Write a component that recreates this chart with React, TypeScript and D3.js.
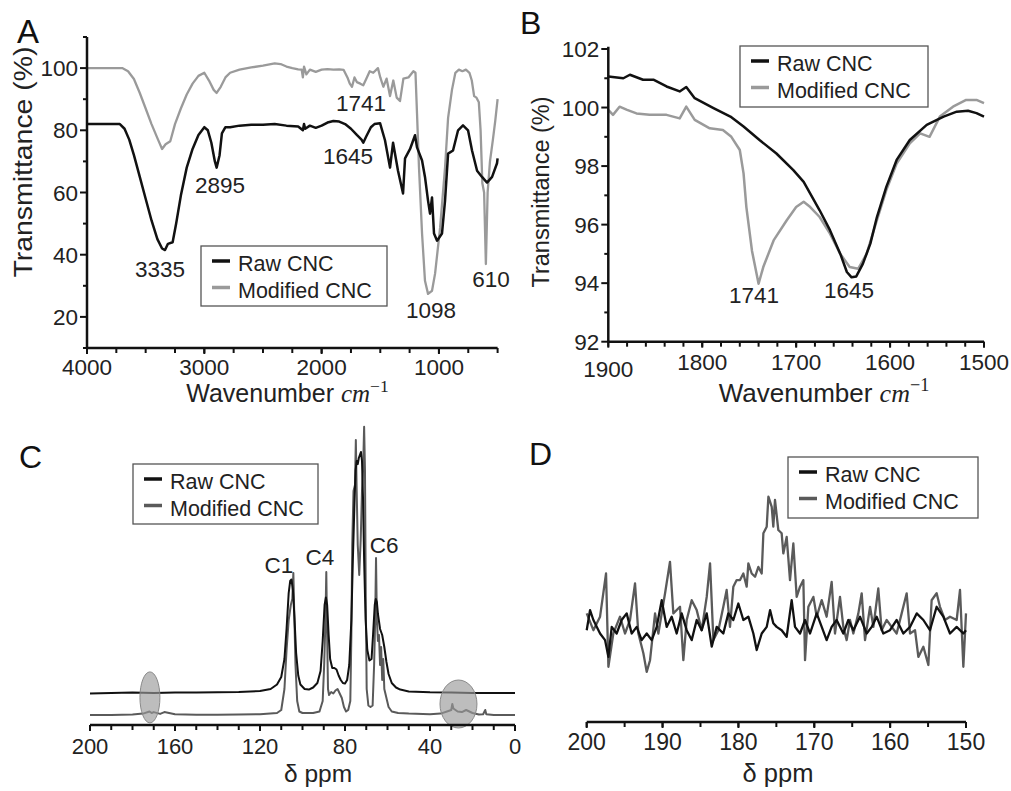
import React from "react";
import * as d3 from "d3";

const SANS = "'Liberation Sans', Arial, Helvetica, sans-serif";
const SERIF = "'Liberation Serif', 'Times New Roman', serif";
const BLACK = "#111111";
const GRAY_LIGHT = "#9a9a9a";
const GRAY_DARK = "#5a5a5a";

type P = [number, number];

// ---------- Panel A : FTIR 4000-500 cm-1 ----------
const aRaw: P[] = [
  [4000, 82], [3850, 82], [3720, 82], [3680, 80.5], [3640, 77], [3600, 72], [3550, 65], [3500, 58], [3450, 51], [3400, 45],
  [3360, 42], [3335, 41.5], [3310, 43.5], [3270, 44], [3240, 50], [3200, 59], [3150, 68], [3100, 74], [3050, 78.5], [3000, 81],
  [2970, 80], [2940, 76], [2910, 70], [2895, 68], [2870, 72], [2850, 79], [2820, 81], [2780, 81], [2700, 81.5], [2600, 81.8],
  [2500, 81.8], [2400, 82], [2300, 81.5], [2200, 81.2], [2160, 80], [2150, 82], [2140, 80.5], [2100, 81.5], [2050, 80.8], [2000, 81.5],
  [1950, 82.5], [1900, 83], [1850, 82.8], [1800, 82], [1750, 80.5], [1700, 78.5], [1660, 77], [1645, 76], [1620, 78], [1580, 81],
  [1550, 82], [1502, 82.3], [1460, 76.8], [1417, 68], [1391, 76], [1349, 67], [1306, 59.7], [1289, 71], [1246, 74], [1204, 78.4],
  [1187, 74.5], [1144, 70.3], [1119, 65], [1093, 57.4], [1076, 53.2], [1059, 58.4], [1042, 46.8], [1016, 44.5], [974, 46.8], [948, 57.4],
  [922, 72.5], [880, 73.5], [837, 80], [795, 81.6], [752, 80], [718, 73.5], [675, 67], [633, 65], [590, 63.2], [547, 65],
  [505, 69.4], [500, 71],
];
const aMod: P[] = [
  [4000, 100], [3850, 100], [3700, 100], [3650, 99], [3600, 96.5], [3550, 92], [3500, 87], [3450, 82], [3400, 77.5], [3360, 74],
  [3330, 75.5], [3290, 76.5], [3250, 82], [3200, 87], [3150, 91.5], [3100, 95], [3050, 97.5], [3000, 98.5], [2960, 96], [2920, 93],
  [2895, 92], [2860, 94], [2820, 97], [2780, 98.5], [2700, 99.5], [2600, 100.2], [2500, 100.8], [2400, 101.5], [2350, 101.3], [2300, 100.5],
  [2250, 100], [2200, 99.6], [2170, 99.5], [2160, 97], [2150, 100.5], [2130, 98], [2100, 99.5], [2050, 98.8], [2000, 99.5], [1950, 99.7],
  [1900, 99.5], [1850, 99.6], [1812, 99.4], [1780, 97], [1760, 95], [1741, 94], [1720, 97], [1700, 95.5], [1670, 95], [1645, 94.5],
  [1620, 96.5], [1590, 99], [1560, 98.5], [1520, 100], [1500, 97], [1474, 94], [1446, 96.6], [1417, 91], [1389, 96], [1360, 90.5],
  [1332, 89.4], [1303, 96.6], [1260, 97], [1218, 99], [1200, 98.5], [1187, 85.5], [1170, 68], [1144, 46.8], [1119, 31.6], [1093, 27.4],
  [1059, 28.4], [1033, 33.9], [990, 48.7], [948, 68], [922, 84], [889, 93], [860, 98.5], [830, 99.5], [800, 99], [770, 99.5],
  [740, 98.5], [720, 96], [700, 91], [680, 90.5], [660, 89], [645, 80], [630, 63], [615, 60], [600, 37], [585, 60],
  [565, 70], [540, 77], [520, 83], [500, 90],
];
const aXMajor = [4000, 3000, 2000, 1000];
const aXMinor = d3.range(4000, 499, -250);
const aYMajor = [20, 40, 60, 80, 100];
const aYMinor = [10, 30, 50, 70, 90, 110];
const aPeaks: { text: string; x: number; y: number }[] = [
  { text: "3335", x: 3378, y: 32.8 },
  { text: "2895", x: 2866, y: 59.8 },
  { text: "1741", x: 1664, y: 86.2 },
  { text: "1645", x: 1775, y: 69.2 },
  { text: "1098", x: 1068, y: 19.6 },
  { text: "610", x: 556, y: 29.6 },
];

// ---------- Panel B : FTIR 1900-1500 cm-1 ----------
const bRaw: P[] = [
  [1900, 101.06], [1884, 101.0], [1877, 101.12], [1863, 100.95], [1852, 100.95], [1838, 100.72], [1824, 100.55], [1817, 100.7],
  [1808, 100.32], [1788, 99.98], [1770, 99.69], [1756, 99.35], [1739, 98.89], [1721, 98.43], [1703, 97.86], [1692, 97.46],
  [1682, 96.89], [1675, 96.49], [1664, 95.81], [1653, 95.0], [1646, 94.38], [1641, 94.2], [1636, 94.23], [1629, 94.66],
  [1621, 95.35], [1614, 96.26], [1604, 97.29], [1593, 98.21], [1579, 98.89], [1561, 99.41], [1543, 99.69], [1529, 99.86],
  [1517, 99.89], [1508, 99.81], [1500, 99.69],
];
const bMod: P[] = [
  [1900, 99.92], [1895, 99.75], [1888, 100.03], [1880, 99.92], [1870, 99.8], [1856, 99.75], [1838, 99.75], [1824, 99.63],
  [1817, 100.03], [1808, 99.58], [1792, 99.29], [1778, 99.23], [1769, 99.0], [1760, 98.55], [1756, 97.75], [1753, 96.6],
  [1747, 95.1], [1740, 93.98], [1735, 94.55], [1724, 95.46], [1710, 96.15], [1700, 96.6], [1692, 96.78], [1685, 96.6],
  [1675, 96.26], [1664, 95.69], [1653, 95.0], [1643, 94.55], [1634, 94.49], [1625, 95.0], [1614, 96.15], [1604, 97.18],
  [1593, 98.09], [1579, 98.78], [1568, 99.12], [1558, 99.0], [1547, 99.69], [1533, 100.03], [1519, 100.26], [1508, 100.26],
  [1500, 100.15],
];
const bXMajor = [1900, 1800, 1700, 1600, 1500];
const bXMinor = d3.range(1900, 1499, -20);
const bYMajor = [92, 94, 96, 98, 100, 102];
const bYMinor = [93, 95, 97, 99, 101];
const bPeaks: { text: string; x: number; y: number }[] = [
  { text: "1741", x: 1744.9, y: 93.32 },
  { text: "1645", x: 1643.8, y: 93.49 },
];

// ---------- Panel C : 13C NMR 200-0 ppm ----------
const cRaw: P[] = [
  [200, 10.5], [190, 10.7], [180, 10.8], [170, 10.7], [160, 10.8], [150, 10.8], [140, 10.9], [130, 11], [120, 11.3], [115, 12],
  [112, 13.5], [110, 16], [108.5, 22], [107.5, 32], [106.5, 44], [105.8, 48], [105.2, 48.5], [104.5, 45], [103.8, 36], [103, 24],
  [102, 16.5], [101, 13.5], [99, 12], [97, 11.8], [95, 12.5], [93, 14], [91.5, 18], [90.5, 28], [89.6, 40], [89, 42.5],
  [88.4, 40], [87.7, 30], [87, 22], [86, 19], [85, 19], [84, 18.5], [83, 16.5], [82, 15], [81, 14], [80, 13.8],
  [79, 15], [78, 20], [77, 35], [76.3, 55], [75.5, 75], [75, 85], [74.5, 88], [74, 87], [73.5, 89], [73, 90],
  [72.5, 91], [72, 88], [71.5, 75], [71, 55], [70.3, 35], [69.5, 25], [68.5, 21.5], [67.5, 22], [66.8, 30], [66, 40],
  [65.5, 42], [65, 41], [64.5, 37], [63.5, 32], [62.5, 30], [61.5, 26], [60.5, 21], [59.5, 17], [58, 14], [56, 12.5],
  [54, 11.8], [50, 11.2], [40, 10.9], [30, 10.8], [20, 10.7], [10, 10.7], [0, 10.7],
];
const cMod: P[] = [
  [200, 3.3], [190, 3.3], [180, 3.5], [175, 3.8], [172, 4.5], [171, 4], [170, 4.3], [167, 3.7], [165, 4.3], [160, 3.6],
  [150, 3.4], [140, 3.4], [130, 3.5], [120, 3.6], [112, 4], [110, 5], [108.5, 12], [107.5, 25], [106.5, 35], [105.5, 40],
  [104.8, 42], [104.3, 50.7], [103.9, 38], [103.3, 20], [102.5, 8], [101.5, 4.5], [100, 4], [95, 4], [92, 4.5], [90.5, 8],
  [89.8, 20], [89.2, 35], [88.8, 51], [88.4, 30], [88, 12], [87.5, 10], [86.5, 11], [85.5, 10.5], [84.5, 11.5], [83.5, 12],
  [82.5, 10.5], [81.5, 9], [80.5, 6], [79.5, 4.5], [78.5, 5], [77.5, 8], [77, 30], [76.6, 60], [76, 78], [75.3, 80],
  [74.9, 95], [74.5, 78], [74, 60], [73.3, 50], [72.6, 62], [72, 78], [71.5, 85], [71, 99.4], [70.6, 85], [70.2, 40],
  [69.8, 12], [69, 6.5], [68, 6], [67, 6.5], [66.3, 20], [65.8, 35], [65.4, 55.7], [65, 35], [64.5, 28], [64, 30],
  [63.5, 20], [63, 26], [62.5, 15], [62, 22], [61.5, 12], [60.5, 9], [59.5, 6], [58, 4.5], [55, 4], [50, 3.8],
  [40, 3.6], [35, 3.8], [32, 4.5], [30, 5], [29.5, 7], [29, 5.5], [27, 4.5], [25, 4.3], [23, 5], [20, 4],
  [17, 3.5], [15, 3.6], [14, 5], [13.5, 3.6], [10, 3.3], [0, 3.3],
];
const cXMajor = [200, 160, 120, 80, 40, 0];
const cXMinor = d3.range(200, -1, -10);
const cPeaks: { text: string; x: number; y: number }[] = [
  { text: "C1", x: 111.1, y: 50.7 },
  { text: "C4", x: 91.8, y: 53.3 },
  { text: "C6", x: 61.6, y: 57.3 },
];
const cMarks: { x: number; y: number; rx: number; ry: number }[] = [
  { x: 171.8, y: 9.2, rx: 4.7, ry: 8.5 },
  { x: 26.6, y: 7, rx: 8.7, ry: 8 },
];

// ---------- Panel D : 13C NMR 200-150 ppm ----------
const dRaw: P[] = [
  [200.0, 30.6], [199.56, 37.3], [199.12, 34.0], [198.24, 29.5], [197.58, 27.3], [197.14, 21.7], [196.7, 31.7], [196.05, 29.5],
  [195.39, 34.0], [194.73, 36.2], [194.07, 29.5], [193.41, 31.7], [192.75, 27.3], [192.09, 29.5], [191.43, 27.3], [190.77, 31.7],
  [190.11, 40.6], [189.46, 31.7], [188.8, 35.1], [188.14, 29.5], [187.48, 36.2], [186.82, 30.6], [186.16, 27.3], [185.5, 34.0],
  [184.84, 30.6], [184.18, 36.2], [183.52, 25.1], [182.86, 31.7], [181.99, 29.5], [181.33, 36.2], [180.67, 34.0], [180.01, 39.5],
  [179.35, 34.0], [178.69, 35.1], [178.03, 29.5], [177.59, 24.0], [176.93, 29.5], [176.27, 31.7], [175.83, 37.3], [175.4, 32.9],
  [174.96, 31.7], [174.3, 30.6], [173.64, 28.4], [172.98, 40.6], [172.54, 31.7], [171.88, 29.5], [171.22, 34.0], [170.56, 29.5],
  [169.68, 36.2], [169.02, 31.7], [168.37, 27.3], [167.71, 31.7], [167.05, 34.0], [166.17, 29.5], [165.51, 34.0], [164.85, 30.6],
  [163.97, 35.1], [163.09, 29.5], [162.43, 31.7], [161.78, 35.1], [160.9, 29.5], [160.02, 30.6], [159.14, 34.0], [158.26, 29.5],
  [157.38, 31.7], [156.5, 36.2], [155.62, 34.0], [154.75, 30.6], [153.87, 38.4], [152.99, 35.1], [152.11, 29.5], [151.23, 31.7],
  [150.35, 29.5], [150.0, 30.6],
];
const dMod: P[] = [
  [200.0, 36.2], [199.12, 30.6], [198.24, 35.1], [197.45, 49.5], [197.14, 18.4], [196.49, 29.5], [195.61, 35.1], [194.95, 29.5],
  [194.29, 34.0], [193.63, 46.2], [193.19, 29.5], [192.53, 22.9], [192.09, 16.7], [191.65, 20.6], [190.99, 36.2], [190.55, 29.5],
  [189.67, 42.9], [189.02, 53.4], [188.58, 36.2], [187.7, 38.4], [187.26, 20.6], [186.82, 34.0], [186.16, 40.6], [185.5, 37.3],
  [184.84, 30.6], [184.18, 41.7], [183.74, 52.9], [183.3, 27.3], [182.64, 30.6], [181.99, 38.4], [181.55, 44.0], [181.11, 31.7],
  [180.67, 45.1], [180.23, 47.3], [179.79, 47.3], [179.35, 49.5], [178.91, 45.1], [178.69, 52.9], [178.25, 49.5], [177.81, 48.4],
  [177.37, 51.7], [176.93, 49.5], [176.71, 62.9], [176.27, 65.1], [176.05, 75.1], [175.61, 71.7], [175.4, 65.1], [175.18, 74.0],
  [174.74, 64.0], [174.3, 62.9], [174.08, 56.2], [173.64, 61.7], [173.2, 47.3], [172.76, 59.5], [172.32, 41.7], [171.88, 45.1],
  [171.44, 47.3], [171.22, 20.6], [170.78, 38.4], [170.12, 41.7], [169.68, 35.1], [169.02, 40.6], [168.37, 35.1], [167.71, 46.7],
  [167.27, 29.5], [166.61, 41.7], [166.17, 31.7], [165.73, 27.3], [165.29, 34.0], [164.85, 29.5], [164.19, 36.2], [163.75, 42.9],
  [163.31, 27.3], [162.65, 38.4], [162.21, 31.7], [161.56, 44.5], [161.12, 30.6], [160.46, 34.0], [159.8, 31.7], [159.14, 29.5],
  [158.48, 36.2], [157.82, 42.9], [157.38, 29.5], [156.72, 30.6], [156.28, 21.7], [155.62, 25.1], [154.96, 19.0], [154.53, 40.6],
  [153.87, 42.9], [153.43, 38.4], [152.77, 34.0], [152.11, 35.1], [151.23, 34.0], [150.79, 44.0], [150.35, 18.4], [150.0, 36.2],
];
const dXMajor = [200, 190, 180, 170, 160, 150];
const dXMinor = d3.range(200, 149, -5);

const legendLabels = ["Raw CNC", "Modified CNC"];

// ---------- helpers ----------
type Scale = d3.ScaleLinear<number, number>;

function BottomAxis(props: {
  x: Scale; y: number; major: number[]; minor: number[]; fs: number; labelY: number; firstDy?: number;
}) {
  const { x, y, major, minor, fs, labelY } = props;
  const firstDy = props.firstDy ?? 0;
  const [r0, r1] = x.range();
  return (
    <g>
      <line x1={r0} x2={r1} y1={y} y2={y} stroke={BLACK} strokeWidth={2.5} />
      {minor.map((t) => (
        <line key={"n" + t} x1={x(t)} x2={x(t)} y1={y} y2={y + 5} stroke={BLACK} strokeWidth={2} />
      ))}
      {major.map((t) => (
        <line key={"m" + t} x1={x(t)} x2={x(t)} y1={y} y2={y + 6} stroke={BLACK} strokeWidth={2} />
      ))}
      {major.map((t, i) => (
        <text key={"t" + t} x={x(t)} y={labelY + (i === 0 ? firstDy : 0)} textAnchor="middle"
          fontFamily={SANS} fontSize={fs} fill="#222">
          {t}
        </text>
      ))}
    </g>
  );
}

function LeftAxis(props: { y: Scale; x: number; top: number; major: number[]; minor: number[]; fs: number }) {
  const { y, x, top, major, minor, fs } = props;
  const bottom = y.range()[0];
  return (
    <g>
      <line x1={x} x2={x} y1={top} y2={bottom} stroke={BLACK} strokeWidth={2.5} />
      {minor.map((t) => (
        <line key={"n" + t} x1={x - 4} x2={x} y1={y(t)} y2={y(t)} stroke={BLACK} strokeWidth={2} />
      ))}
      {major.map((t) => (
        <line key={"m" + t} x1={x - 7} x2={x} y1={y(t)} y2={y(t)} stroke={BLACK} strokeWidth={2} />
      ))}
      {major.map((t) => (
        <text key={"t" + t} x={x - 9} y={y(t) + 8} textAnchor="end" fontFamily={SANS} fontSize={fs} fill="#222">
          {t}
        </text>
      ))}
    </g>
  );
}

function Legend(props: { x: number; y: number; w: number; h: number; modColor: string }) {
  const { x, y, w, h, modColor } = props;
  return (
    <g>
      <rect x={x} y={y} width={w} height={h} fill="white" stroke="#555" strokeWidth={1.3} />
      {legendLabels.map((lab, i) => (
        <g key={lab}>
          <line x1={x + 11} x2={x + 29} y1={y + 15 + i * 26.5} y2={y + 15 + i * 26.5}
            stroke={i === 0 ? BLACK : modColor} strokeWidth={3.5} />
          <text x={x + 37} y={y + 25 + i * 26.5} fontFamily={SANS} fontSize={21.5} fill="#222">{lab}</text>
        </g>
      ))}
    </g>
  );
}

function WaveTitle(props: { x: number; y: number; fs: number }) {
  const { x, y, fs } = props;
  return (
    <text x={x} y={y} textAnchor="middle" fontFamily={SANS} fontSize={fs} fill="#222">
      {"Wavenumber "}
      <tspan fontFamily={SERIF} fontStyle="italic">cm</tspan>
      <tspan fontFamily={SERIF} fontSize={fs * 0.7} dy={-fs * 0.42}>{"\u22121"}</tspan>
    </text>
  );
}

function pathOf(data: P[], x: Scale, y: Scale) {
  return d3.line<P>().x((d) => x(d[0])).y((d) => y(d[1]))(data) || "";
}

export default function App() {
  // Panel A scales
  const ax = d3.scaleLinear().domain([4000, 500]).range([87, 497.6]);
  const ay = d3.scaleLinear().domain([10, 110]).range([348, 37]);
  // Panel B
  const bx = d3.scaleLinear().domain([1900, 1500]).range([608.3, 984]);
  const by = d3.scaleLinear().domain([92, 102]).range([341.7, 49]);
  // Panel C
  const cx = d3.scaleLinear().domain([200, 0]).range([90, 515]);
  const cy = d3.scaleLinear().domain([0, 100]).range([725, 425]);
  // Panel D
  const dx = d3.scaleLinear().domain([200, 150]).range([586.7, 966]);
  const dy = d3.scaleLinear().domain([0, 100]).range([722, 422]);

  return (
    <svg width={1011} height={791} viewBox="0 0 1011 791"
      style={{ position: "absolute", left: 0, top: 0, background: "white" }}>
      <rect x={0} y={0} width={1011} height={791} fill="white" />

      {/* ---------- A ---------- */}
      <text x={17} y={43} fontFamily={SANS} fontSize={33} fill="#111">A</text>
      <path d={pathOf(aMod, ax, ay)} fill="none" stroke={GRAY_LIGHT} strokeWidth={2.3} strokeLinejoin="round" />
      <path d={pathOf(aRaw, ax, ay)} fill="none" stroke={BLACK} strokeWidth={2.5} strokeLinejoin="round" />
      <LeftAxis y={ay} x={87} top={37} major={aYMajor} minor={aYMinor} fs={22.5} />
      <BottomAxis x={ax} y={348} major={aXMajor} minor={aXMinor} fs={22.5} labelY={375} />
      {aPeaks.map((p) => (
        <text key={p.text} x={ax(p.x)} y={ay(p.y)} textAnchor="middle" fontFamily={SANS} fontSize={22.5} fill="#222">
          {p.text}
        </text>
      ))}
      <Legend x={201} y={246} w={186} h={60} modColor={GRAY_LIGHT} />
      <text transform="translate(32,162) rotate(-90)" textAnchor="middle" fontFamily={SANS} fontSize={25}
        textLength={231} lengthAdjust="spacingAndGlyphs" fill="#222">Transmittance (%)</text>
      <WaveTitle x={287.5} y={402} fs={25} />

      {/* ---------- B ---------- */}
      <text x={520} y={34} fontFamily={SANS} fontSize={32} fill="#111">B</text>
      <path d={pathOf(bMod, bx, by)} fill="none" stroke={GRAY_LIGHT} strokeWidth={2.5} strokeLinejoin="round" />
      <path d={pathOf(bRaw, bx, by)} fill="none" stroke={BLACK} strokeWidth={2.5} strokeLinejoin="round" />
      <LeftAxis y={by} x={608.3} top={46.7} major={bYMajor} minor={bYMinor} fs={22.5} />
      <BottomAxis x={bx} y={341.7} major={bXMajor} minor={bXMinor} fs={22.5} labelY={370} firstDy={7} />
      {bPeaks.map((p) => (
        <text key={p.text} x={bx(p.x)} y={by(p.y)} textAnchor="middle" fontFamily={SANS} fontSize={22.5} fill="#222">
          {p.text}
        </text>
      ))}
      <Legend x={740} y={46} w={188} h={61} modColor={GRAY_LIGHT} />
      <text transform="translate(549,192) rotate(-90)" textAnchor="middle" fontFamily={SANS} fontSize={23.5}
        fill="#222">Transmittance (%)</text>
      <WaveTitle x={824} y={402} fs={26} />

      {/* ---------- C ---------- */}
      <text x={19} y={468} fontFamily={SANS} fontSize={32} fill="#111">C</text>
      <path d={pathOf(cMod, cx, cy)} fill="none" stroke={GRAY_DARK} strokeWidth={2} strokeLinejoin="round" />
      <path d={pathOf(cRaw, cx, cy)} fill="none" stroke={BLACK} strokeWidth={2} strokeLinejoin="round" />
      {cMarks.map((m, i) => (
        <ellipse key={i} cx={cx(m.x)} cy={cy(m.y)} rx={Math.abs(cx(m.x + m.rx) - cx(m.x))}
          ry={Math.abs(cy(m.y + m.ry) - cy(m.y))} fill="#9a9a9a" fillOpacity={0.65} stroke="#8a8a8a" strokeWidth={1} />
      ))}
      <BottomAxis x={cx} y={725} major={cXMajor} minor={cXMinor} fs={22} labelY={754} />
      {cPeaks.map((p) => (
        <text key={p.text} x={cx(p.x)} y={cy(p.y)} textAnchor="middle" fontFamily={SANS} fontSize={22.5} fill="#222">
          {p.text}
        </text>
      ))}
      <Legend x={133} y={464} w={185} h={60} modColor={GRAY_DARK} />
      <text x={318} y={782} textAnchor="middle" fontFamily={SANS} fontSize={24.5} fill="#222">δ ppm</text>

      {/* ---------- D ---------- */}
      <text x={529} y={465} fontFamily={SANS} fontSize={32} fill="#111">D</text>
      <path d={pathOf(dMod, dx, dy)} fill="none" stroke={GRAY_DARK} strokeWidth={2.3} strokeLinejoin="round" />
      <path d={pathOf(dRaw, dx, dy)} fill="none" stroke={BLACK} strokeWidth={2.3} strokeLinejoin="round" />
      <BottomAxis x={dx} y={722} major={dXMajor} minor={dXMinor} fs={23} labelY={750} />
      <Legend x={788} y={457} w={190} h={61} modColor={GRAY_DARK} />
      <text x={778} y={782} textAnchor="middle" fontFamily={SANS} fontSize={25.5} fill="#222">δ ppm</text>
    </svg>
  );
}
